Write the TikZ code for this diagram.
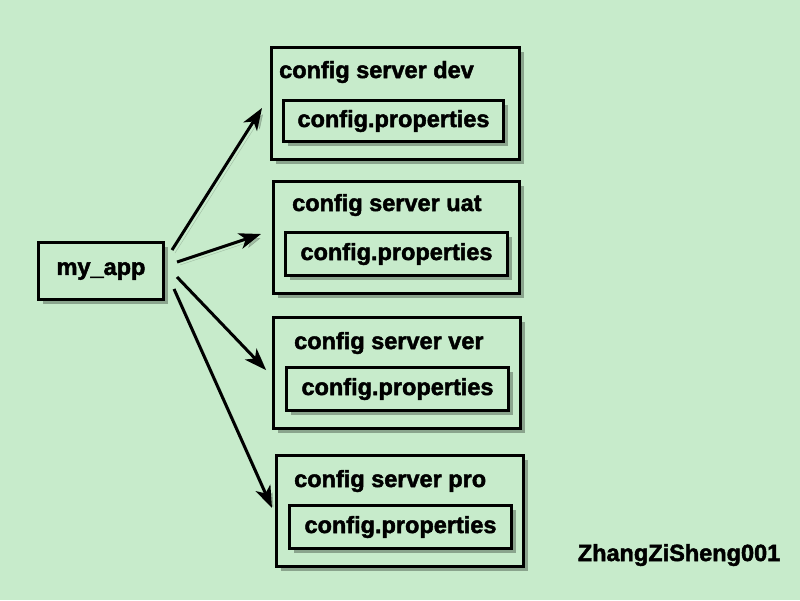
\documentclass[tikz,border=0pt]{standalone}
\usepackage{fontspec}
\setmainfont{Liberation Sans}[FakeBold=2]
\usetikzlibrary{shadows,arrows.meta}
\definecolor{bg}{HTML}{C7EBCB}
\tikzset{
 box/.style={draw=black, line width=3pt, fill=bg, drop shadow={shadow xshift=4pt, shadow yshift=-4pt, opacity=0.3, fill=black}, inner sep=0pt, anchor=north west},
 lbl/.style={font=\bfseries\fontsize{23.5}{27}\selectfont, inner sep=0pt},
 link/.style={line width=3pt, -{Stealth[length=22pt,width=16pt,inset=6pt]}, preaction={draw=black,opacity=0.2,transform canvas={shift={(3pt,-3pt)}}}}
}
\begin{document}
\begin{tikzpicture}[x=1pt,y=-1pt]
\fill[bg] (0,0) rectangle (800,600);
\useasboundingbox (0,0) rectangle (800,600);
% my_app
\node[box, minimum width=125pt, minimum height=57pt] (app) at (37,241) {};
\node[lbl] (appt) at (app.center) {my\_app};
% dev
\node[box, minimum width=248pt, minimum height=112pt] (dev) at (270,46) {};
\node[box, minimum width=220pt, minimum height=41pt] (devp) at (282,99) {};
\node[lbl] (devpt) at (devp.center) {config.properties};
\node[lbl, anchor=west] (devl) at (279,72) {config server dev};
% uat
\node[box, minimum width=246pt, minimum height=112pt] (uat) at (272,180) {};
\node[box, minimum width=222pt, minimum height=43pt] (uatp) at (284,231) {};
\node[lbl] (uatpt) at (uatp.center) {config.properties};
\node[lbl, anchor=west] (uatl) at (292,205) {config server uat};
% ver
\node[box, minimum width=247pt, minimum height=111pt] (ver) at (272,316) {};
\node[box, minimum width=222pt, minimum height=43pt] (verp) at (285,366) {};
\node[lbl] (verpt) at (verp.center) {config.properties};
\node[lbl, anchor=west] (verl) at (294,343) {config server ver};
% pro
\node[box, minimum width=247pt, minimum height=111pt] (pro) at (275,454) {};
\node[box, minimum width=222pt, minimum height=43pt] (prop) at (288,504) {};
\node[lbl] (propt) at (prop.center) {config.properties};
\node[lbl, anchor=west] (prol) at (294,481) {config server pro};
% signature
\node[lbl] (sig) at (679,555) {ZhangZiSheng001};
% arrows
\coordinate (s1) at (172,250); \coordinate (e1) at (262,108);
\coordinate (s2) at (177,262); \coordinate (e2) at (261,234);
\coordinate (s3) at (177,277); \coordinate (e3) at (266,370);
\coordinate (s4) at (174,289); \coordinate (e4) at (272,508);
\draw[link] (s1) -- (e1);
\draw[link] (s2) -- (e2);
\draw[link] (s3) -- (e3);
\draw[link] (s4) -- (e4);
\end{tikzpicture}
\end{document}
